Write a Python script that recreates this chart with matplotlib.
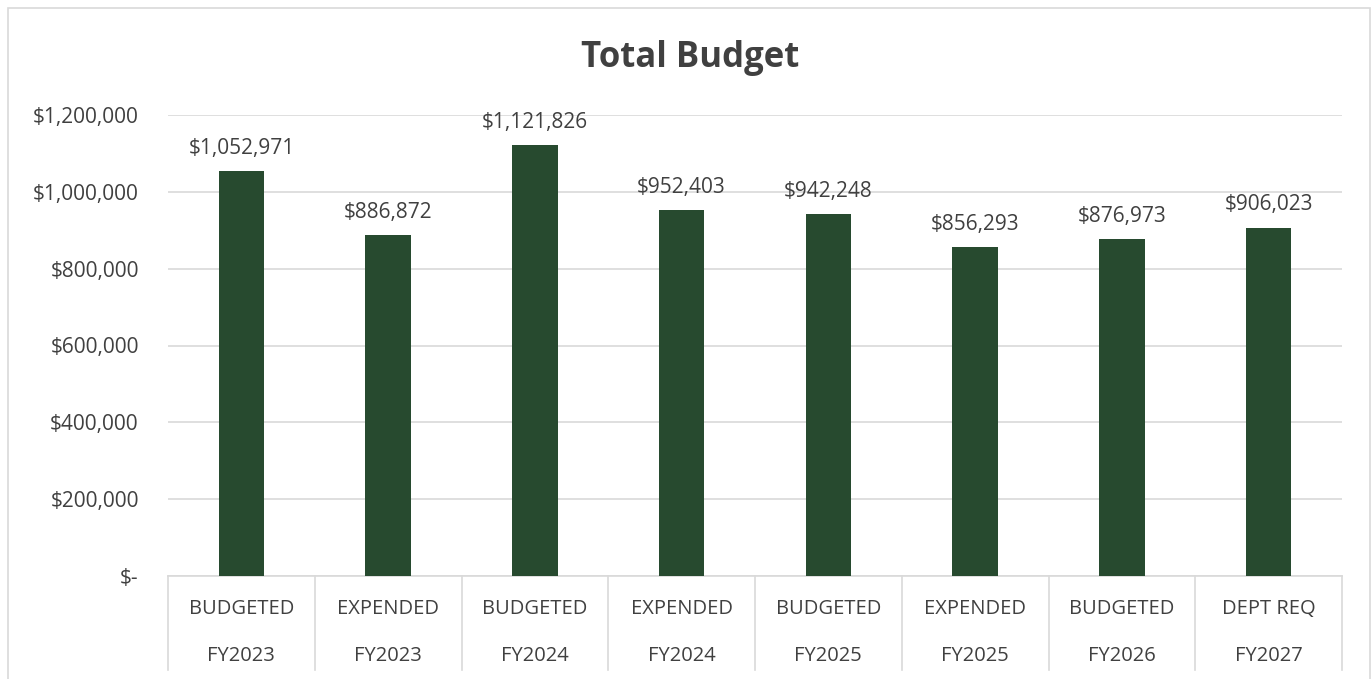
import matplotlib
matplotlib.use("Agg")
import matplotlib.pyplot as plt
from matplotlib.patches import Rectangle
from matplotlib.lines import Line2D
from matplotlib.ticker import FuncFormatter

# data
kinds = ["BUDGETED", "EXPENDED", "BUDGETED", "EXPENDED", "BUDGETED", "EXPENDED", "BUDGETED", "DEPT REQ"]
years = ["FY2023", "FY2023", "FY2024", "FY2024", "FY2025", "FY2025", "FY2026", "FY2027"]
amounts = [1052971, 886872, 1121826, 952403, 942248, 856293, 876973, 906023]

plt.rcParams['font.family'] = ['Open Sans', 'DejaVu Sans']
txt = '#404040'
grid = '#D9D9D9'

fig = plt.figure(figsize=(13.72, 6.79), dpi=100)
ax = fig.add_axes([168/1372, 1 - 576/679, (1342 - 168)/1372, (576 - 115)/679])

x = list(range(len(amounts)))
ax.bar(x, amounts, width=0.31, color='#274A2F', zorder=3)
ax.set_xlim(-0.5, len(amounts) - 0.5)
ax.set_ylim(0, 1200000)
ax.set_yticks(range(0, 1200001, 200000))
ax.yaxis.set_major_formatter(FuncFormatter(lambda v, p: "$-" if v == 0 else f"${v:,.0f}"))
ax.grid(axis='y', color=grid, lw=1.2, zorder=0)
for s in ['top', 'right', 'left']:
    ax.spines[s].set_visible(False)
ax.spines['bottom'].set_color(grid)
ax.spines['bottom'].set_linewidth(1.2)
ax.tick_params(axis='y', length=0, pad=21, labelsize=15, labelcolor=txt)
ax.set_xticks([])

# data labels
for i, v in enumerate(amounts):
    ax.annotate(f"${v:,}", (i, v), xytext=(0, 9), textcoords='offset points',
                ha='center', va='bottom', fontsize=15, color=txt)

# two-level category axis
tr = ax.get_xaxis_transform()
for i in x:
    ax.text(i, -0.071, kinds[i], transform=tr, ha='center', va='center', fontsize=14.5, color=txt)
    ax.text(i, -0.173, years[i], transform=tr, ha='center', va='center', fontsize=14.5, color=txt)
for b in range(len(amounts) + 1):
    ax.add_line(Line2D([b - 0.5, b - 0.5], [0, -0.203], transform=tr, color=grid,
                       lw=1.2, clip_on=False))

fig.text(690/1372, 1 - 58/679, "Total Budget", ha='center', va='center',
         fontsize=25, fontweight='bold', color=txt)

# chart frame
fig.patches.append(Rectangle((8/1372, -0.05), (1370 - 8)/1372, 1.05 - 8/679,
                             transform=fig.transFigure, fill=False, ec=grid, lw=1.2))

fig.savefig("out.png", dpi=100)
